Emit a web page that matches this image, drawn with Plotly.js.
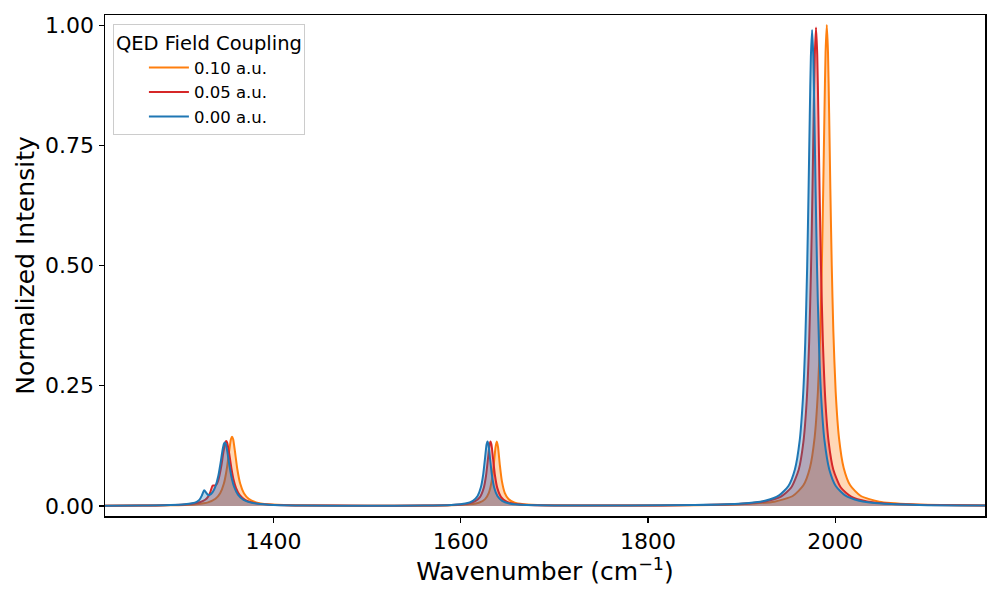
<!DOCTYPE html>
<html>
<head>
<meta charset="utf-8">
<script src="https://cdn.plot.ly/plotly-3.0.1.min.js"></script>
<style>
  html, body { margin: 0; padding: 0; background: #ffffff; }
  #chart { width: 1000px; height: 600px; }
</style>
</head>
<body>
<div id="chart"></div>
<script>
// Spectra (wavenumber in cm^-1, normalized intensity)
var seriesLabels = ['0.10 a.u.', '0.05 a.u.', '0.00 a.u.'];

var wnHigh = [1220, 1260, 1290, 1305, 1318, 1330, 1338, 1343, 1347, 1350, 1352.5, 1354.5, 1355.7, 1356.9, 1358.9, 1361.4, 1364.4, 1368.4, 1373.4, 1381.4, 1394.4, 1420, 1480, 1550,
  1590, 1610, 1620, 1626, 1630, 1633, 1635.2, 1637.2, 1638.5, 1639.8, 1641.8, 1644, 1647, 1651, 1657, 1667, 1690, 1760,
  1850, 1900, 1935, 1955, 1966, 1973, 1978, 1981.5, 1984, 1985.7, 1987.2, 1988.5, 1989.7, 1991, 1992.3, 1993.5, 1994.8, 1996.3, 1998, 2000.5, 2004, 2009, 2016, 2027, 2047, 2082, 2120, 2160];
var intHigh = [0.0003, 0.0006, 0.0012, 0.0020, 0.0036, 0.0074, 0.0148, 0.0263, 0.0464, 0.0757, 0.1121, 0.1385, 0.144, 0.1385, 0.1121, 0.0757, 0.0464, 0.0263, 0.0148, 0.0074, 0.0034, 0.0012, 0.0004, 0.0004,
  0.0012, 0.0032, 0.0071, 0.0142, 0.0273, 0.0509, 0.0843, 0.1228, 0.134, 0.1228, 0.0843, 0.0509, 0.0273, 0.0144, 0.0071, 0.0033, 0.0012, 0.0007,
  0.0014, 0.0034, 0.0088, 0.0211, 0.0429, 0.0795, 0.1421, 0.2368, 0.3636, 0.5, 0.6597, 0.8175, 0.9431, 1.0, 0.9431, 0.8175, 0.6597, 0.5, 0.3636, 0.2368, 0.1421, 0.0795, 0.0429, 0.0211, 0.0088, 0.0034, 0.0017, 0.0010];

var wnLow = [1220, 1260, 1290, 1305, 1315, 1322, 1327, 1330, 1332.5, 1335, 1337, 1339, 1341.5, 1344, 1346.5, 1348.5, 1349.5, 1350.5, 1352.5, 1355, 1357.5, 1360, 1364, 1370, 1380, 1397, 1430, 1500, 1560,
  1590, 1607, 1615, 1620.5, 1624.5, 1627, 1629, 1630.8, 1631.8, 1632.8, 1634.6, 1636.6, 1639.1, 1643.1, 1648.6, 1656.6, 1668, 1700, 1780,
  1850, 1900, 1925, 1942, 1953, 1961, 1966, 1969.5, 1972.2, 1974.2, 1975.7, 1977, 1978.2, 1979.5, 1980.8, 1982, 1983.3, 1984.8, 1986.8, 1989.5, 1993, 1998, 2006, 2017, 2034, 2059, 2100, 2160];
var intLow = [0.0004, 0.0007, 0.0017, 0.0030, 0.0050, 0.0081, 0.0128, 0.0187, 0.0289, 0.0424, 0.0423, 0.0443, 0.0568, 0.0800, 0.1118, 0.1318, 0.1348, 0.1316, 0.1111, 0.0786, 0.0533, 0.0371, 0.0224, 0.0122, 0.0058, 0.0025, 0.0010, 0.0004, 0.0006,
  0.0017, 0.0045, 0.0092, 0.0183, 0.0369, 0.0627, 0.0966, 0.1277, 0.134, 0.1277, 0.0966, 0.0627, 0.0369, 0.0183, 0.0093, 0.0046, 0.0023, 0.0009, 0.0008,
  0.0017, 0.0044, 0.0093, 0.0194, 0.0382, 0.0753, 0.1327, 0.2177, 0.3427, 0.4975, 0.6564, 0.8134, 0.9384, 0.995, 0.9384, 0.8134, 0.6564, 0.4975, 0.3427, 0.2177, 0.1327, 0.0753, 0.0382, 0.0194, 0.0093, 0.0044, 0.0019, 0.0009];

var wnZero = [1220, 1260, 1290, 1305, 1313, 1318, 1321, 1323.5, 1326, 1328, 1330, 1332, 1335, 1338, 1341, 1343.5, 1345.5, 1347, 1348, 1349, 1350.5, 1352.5, 1355, 1358, 1362, 1368, 1378, 1395, 1430, 1500, 1560,
  1590, 1605, 1613, 1618, 1621.5, 1624, 1626, 1627.6, 1628.6, 1629.6, 1631.2, 1633.2, 1635.7, 1639.2, 1644.2, 1652, 1665, 1700, 1780,
  1850, 1900, 1925, 1940, 1950, 1957, 1962, 1965.5, 1968, 1970, 1971.5, 1972.8, 1974, 1975.3, 1976.6, 1977.8, 1979.1, 1980.6, 1982.6, 1985.1, 1988.6, 1993.6, 2000.6, 2010.6, 2025.6, 2050, 2090, 2160];
var intZero = [0.0004, 0.0008, 0.0018, 0.0034, 0.0055, 0.0086, 0.0130, 0.0217, 0.0326, 0.0278, 0.0231, 0.0231, 0.0286, 0.0406, 0.0620, 0.0900, 0.1155, 0.1290, 0.132, 0.1290, 0.1150, 0.0892, 0.0611, 0.0393, 0.0234, 0.0126, 0.0059, 0.0025, 0.0009, 0.0004, 0.0007,
  0.0021, 0.0049, 0.0105, 0.0207, 0.0386, 0.0655, 0.1005, 0.1277, 0.134, 0.1277, 0.1005, 0.0655, 0.0384, 0.0205, 0.0105, 0.0051, 0.0023, 0.0009, 0.0008,
  0.0018, 0.0049, 0.0108, 0.0218, 0.0415, 0.0764, 0.1350, 0.2235, 0.3410, 0.4950, 0.6530, 0.8090, 0.9340, 0.99, 0.9340, 0.8090, 0.6530, 0.4950, 0.3410, 0.2235, 0.1350, 0.0764, 0.0415, 0.0218, 0.0108, 0.0049, 0.0021, 0.0008];

var xTicks = [1400, 1600, 1800, 2000];
var yTicks = [0, 0.25, 0.5, 0.75, 1.0];

var lineColors = ['#ff7f0e', '#d62728', '#1f77b4'];
var fillColors = ['rgba(255,127,14,0.3)', 'rgba(214,39,40,0.3)', 'rgba(31,119,180,0.3)'];

function buildTraces() {
  var xs = [wnHigh, wnLow, wnZero];
  var ys = [intHigh, intLow, intZero];
  var traces = [];
  for (var i = 0; i < xs.length; i++) {
    // shaded area under the curve
    traces.push({
      x: xs[i], y: ys[i], type: 'scatter', mode: 'lines',
      fill: 'tozeroy', fillcolor: fillColors[i],
      line: { width: 0, color: lineColors[i], shape: 'spline', smoothing: 0.6 },
      showlegend: false, hoverinfo: 'skip'
    });
    // the spectrum line itself
    traces.push({
      x: xs[i], y: ys[i], type: 'scatter', mode: 'lines',
      name: seriesLabels[i],
      line: { width: 2, color: lineColors[i], shape: 'spline', smoothing: 0.6 }
    });
  }
  return traces;
}

var axisCommon = {
  showgrid: false,
  zeroline: false,
  showline: true,
  mirror: true,
  linecolor: '#000000',
  linewidth: 1.5,
  ticks: 'outside',
  ticklen: 5,
  tickwidth: 1.2,
  tickcolor: '#000000',
  tickfont: { size: 22, color: '#000000' }
};

var layout = {
  width: 1000,
  height: 600,
  paper_bgcolor: '#ffffff',
  plot_bgcolor: '#ffffff',
  font: { family: 'DejaVu Sans, sans-serif', color: '#000000' },
  margin: { l: 105, r: 15, t: 15, b: 84 },
  xaxis: Object.assign({}, axisCommon, {
    range: [1220, 2160],
    tickvals: xTicks,
    title: { text: 'Wavenumber (cm<sup>\u22121</sup>)', font: { size: 25 }, standoff: 5 }
  }),
  yaxis: Object.assign({}, axisCommon, {
    range: [-0.021, 1.021],
    tickvals: yTicks,
    tickformat: '.2f',
    title: { text: 'Normalized Intensity', font: { size: 25 }, standoff: 3 }
  }),
  legend: {
    x: 0.009, y: 0.982, xanchor: 'left', yanchor: 'top',
    bgcolor: 'rgba(255,255,255,0.8)',
    bordercolor: '#cccccc',
    borderwidth: 1,
    font: { size: 16.5 },
    title: { text: 'QED Field Coupling', font: { size: 19.5 }, side: 'top center' },
    indentation: 30,
    itemwidth: 40
  },
  showlegend: true
};

Plotly.newPlot('chart', buildTraces(), layout, { displayModeBar: false, staticPlot: true });
</script>
</body>
</html>
